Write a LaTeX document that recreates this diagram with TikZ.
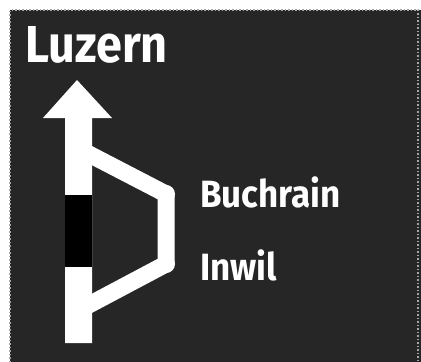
\documentclass[tikz,border=0pt]{standalone}
\usepackage{fontspec}
\setmainfont{Fira Sans}
\definecolor{signbg}{RGB}{38,38,38}
\tikzset{
  signtext/.style={text=white, inner sep=0pt, anchor=base west, font=\bfseries},
  roadline/.style={draw=white, line width=17pt, line join=round},
}
\begin{document}
\begin{tikzpicture}[x=1pt,y=-1pt]
\useasboundingbox (0,0) rectangle (421,362);
\fill[white] (0,0) rectangle (421,362);
\fill[signbg] (10,10) rectangle (421,362);
\draw[gray!70, line width=1.5pt, dotted] (10,362) -- (10,10) -- (418,10) -- (418,362);
% branch
\coordinate (b0) at (85,152);
\coordinate (b1) at (166,194);
\coordinate (b2) at (166,264);
\coordinate (b3) at (85,307);
\draw[roadline] (b0) -- (b1) -- (b2) -- (b3);
\fill[white] (b1) circle (9);
\fill[white] (b2) circle (9);
% main arrow
\fill[white] (65,343) -- (65,118) -- (43,118) -- (77,80) -- (112,118) -- (92,118) -- (92,343) -- cycle;
\fill[black] (65,195) rectangle (92,267);
% texts
\node[signtext, font=\fontsize{52}{52}\selectfont\bfseries] (luz) at (25,62) {\scalebox{0.9}[1]{Luzern}};
\node[signtext, font=\fontsize{38}{38}\selectfont\bfseries] (buch) at (200,207) {\scalebox{0.92}[1]{Buchrain}};
\node[signtext, font=\fontsize{38}{38}\selectfont\bfseries] (inw) at (200,280) {\scalebox{0.92}[1]{Inwil}};
\end{tikzpicture}
\end{document}
